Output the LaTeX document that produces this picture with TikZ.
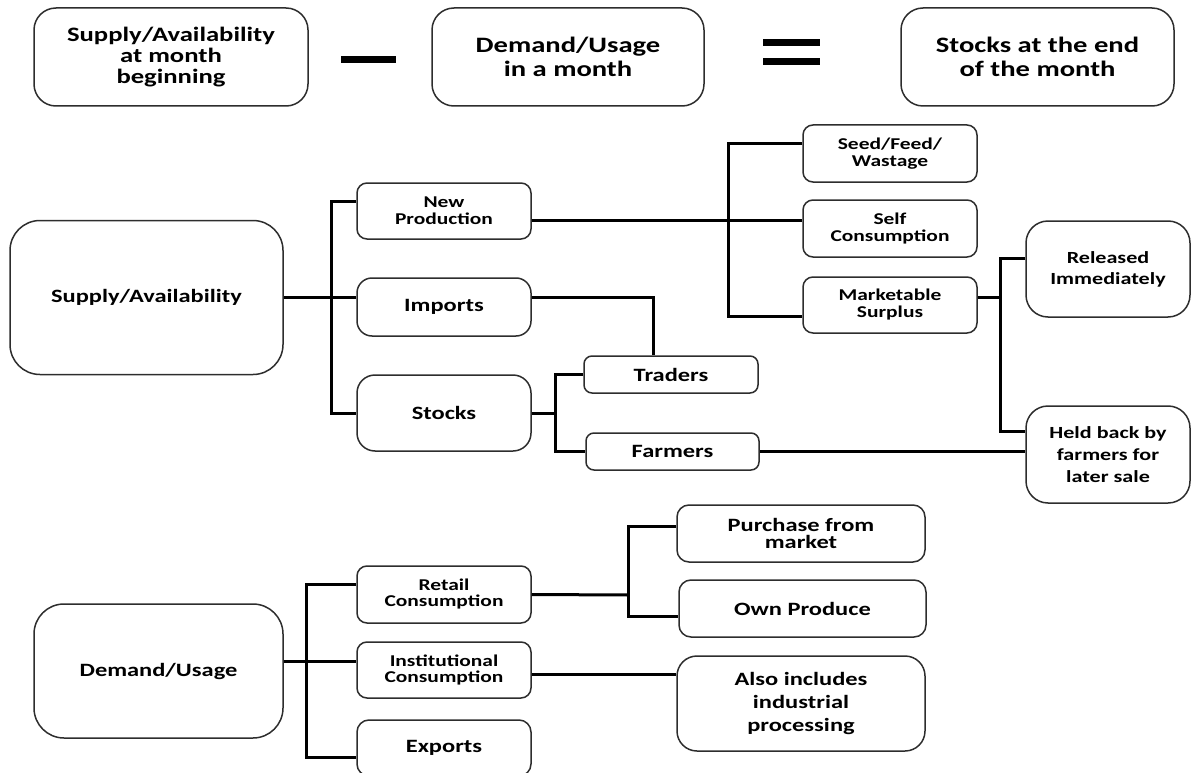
\documentclass[tikz,border=0pt]{standalone}
\definecolor{boxgrey}{RGB}{45,45,45}
\usepackage{fontspec}
\setmainfont{Carlito}[FakeStretch=1.3]
\usepackage{tikz}
\usetikzlibrary{calc}

\newcommand{\txttop}{\fontsize{22}{24}\selectfont\bfseries}
\newcommand{\txtmid}{\fontsize{18.8}{21}\selectfont\bfseries}
\newcommand{\txtsmall}{\fontsize{16.5}{17}\selectfont\bfseries}

\tikzset{
  flowbox/.style={draw=boxgrey, line width=1.5pt, rounded corners=#1,
                  align=center, inner sep=0pt},
  flowbox/.default=10pt,
  link/.style={draw=black, line width=3pt},
  opbar/.style={fill=black, inner sep=0pt, minimum height=7pt}
}

\begin{document}
\begin{tikzpicture}[x=1pt, y=-1pt]
  \useasboundingbox (0,0) rectangle (1194,773);

  % balance equation
  \node[flowbox=22pt, minimum width=274pt, minimum height=98pt,
        font=\fontsize{20.5}{21}\selectfont\bfseries] (open) at (171,57)
        {Supply/Availability\\at month\\beginning};
  \node[opbar, minimum width=55pt] (minus) at (368.5,60) {};
  \node[flowbox=22pt, minimum width=272pt, minimum height=98pt, font=\txttop] (use) at (568,57)
        {Demand/Usage\\in a month};
  \node[opbar, minimum width=57pt] (eqtop) at (791.5,43) {};
  \node[opbar, minimum width=57pt] (eqbot) at (791.5,62) {};
  \node[flowbox=22pt, minimum width=273pt, minimum height=98pt, font=\txttop] (close) at (1037.5,57)
        {Stocks at the end\\of the month};

  % supply side
  \node[flowbox=30pt, minimum width=273pt, minimum height=154pt, font=\txtmid] (sa) at (146.5,297.5)
        {Supply/Availability};
  \node[flowbox, minimum width=174pt, minimum height=56pt, font=\txtsmall] (np) at (444,211)
        {New\\Production};
  \node[flowbox=15pt, minimum width=174pt, minimum height=58pt, font=\txtmid] (imp) at (444,307) {Imports};
  \node[flowbox=18pt, minimum width=174pt, minimum height=76pt, font=\txtmid] (stk) at (444,413) {Stocks};
  \node[flowbox=8pt, minimum width=174pt, minimum height=37pt, font=\txtmid] (trd) at (671,374.5) {Traders};
  \node[flowbox=8pt, minimum width=173pt, minimum height=37pt, font=\txtmid] (frm) at (672.5,451.5) {Farmers};
  \node[flowbox, minimum width=174pt, minimum height=57pt, font=\txtsmall] (seed) at (890,153.5)
        {Seed/Feed/\\Wastage};
  \node[flowbox, minimum width=174pt, minimum height=57pt, font=\txtsmall] (selfc) at (890,228.5)
        {Self\\Consumption};
  \node[flowbox, minimum width=174pt, minimum height=56pt, font=\txtsmall] (mkt) at (890,305)
        {Marketable\\Surplus};
  \node[flowbox=22pt, minimum width=164pt, minimum height=96pt,
        font=\fontsize{17}{21}\selectfont\bfseries] (rel) at (1108,269)
        {Released\\Immediately};
  \node[flowbox=22pt, minimum width=164pt, minimum height=97pt,
        font=\fontsize{17}{22}\selectfont\bfseries] (held) at (1108,454.5)
        {Held back by\\farmers for\\later sale};

  \coordinate (sbus) at (331,413);
  \draw[link] (sa.east) -- (sa.east -| imp.west);
  \draw[link] ([yshift=10pt]np.west) -| (sbus) -- (stk.west);
  \draw[link] ([yshift=-9pt]np.east) -- ([yshift=-9pt]np.east -| selfc.west);
  \coordinate (pbus) at (728,316);
  \draw[link] ([yshift=10pt]seed.west) -| (pbus) -- (pbus -| mkt.west);
  \draw[link] ([yshift=10pt]imp.east) -| ([xshift=-18pt]trd.north);
  \coordinate (kbus) at (555,413);
  \draw[link] (stk.east) -- (kbus);
  \draw[link] (trd.west) -| (kbus) |- (frm.west);
  \draw[link] (frm.east) -- (frm.east -| held.west);
  \coordinate (mbus) at (1000,297);
  \draw[link] ([yshift=8pt]mkt.east) -- (mbus);
  \draw[link] ([yshift=11pt]rel.west) -| (mbus) |- ([yshift=23pt]held.west);

  % demand side
  \node[flowbox=30pt, minimum width=249pt, minimum height=134pt, font=\txtmid] (dem) at (158.5,671)
        {Demand/Usage};
  \node[flowbox, minimum width=174pt, minimum height=57pt, font=\fontsize{16.5}{16}\selectfont\bfseries]
        (ret) at (444,594.5) {Retail\\Consumption};
  \node[flowbox, minimum width=174pt, minimum height=56pt, font=\fontsize{16.5}{16}\selectfont\bfseries]
        (inst) at (444,670) {Institutional\\Consumption};
  \node[flowbox=12pt, minimum width=174pt, minimum height=56pt, font=\txtmid] (exp) at (444,748) {Exports};
  \node[flowbox=12pt, minimum width=248pt, minimum height=57pt,
        font=\fontsize{18.8}{17.5}\selectfont\bfseries] (pur) at (801,533.5) {Purchase from\\market};
  \node[flowbox=12pt, minimum width=247pt, minimum height=57pt, font=\txtmid] (own) at (802.5,608.5)
        {Own Produce};
  \node[flowbox=20pt, minimum width=248pt, minimum height=95pt,
        font=\fontsize{18.8}{23}\selectfont\bfseries] (also) at (801,703.5)
        {Also includes\\industrial\\processing};

  \coordinate (dbus) at (306,757);
  \draw[link] ([yshift=10pt]dem.east) -- ([yshift=10pt]dem.east -| inst.west);
  \draw[link] ([yshift=10pt]ret.west) -| (dbus) -- (dbus -| exp.west);
  \coordinate (rbus) at (628,595);
  \draw[link] (ret.east) -- (rbus);
  \draw[link] ([yshift=7pt]pur.west) -| (rbus) |- ([yshift=-8pt]own.west);
  \draw[link] ([yshift=-4pt]inst.east) -- ([yshift=-4pt]inst.east -| also.west);
\end{tikzpicture}
\end{document}
